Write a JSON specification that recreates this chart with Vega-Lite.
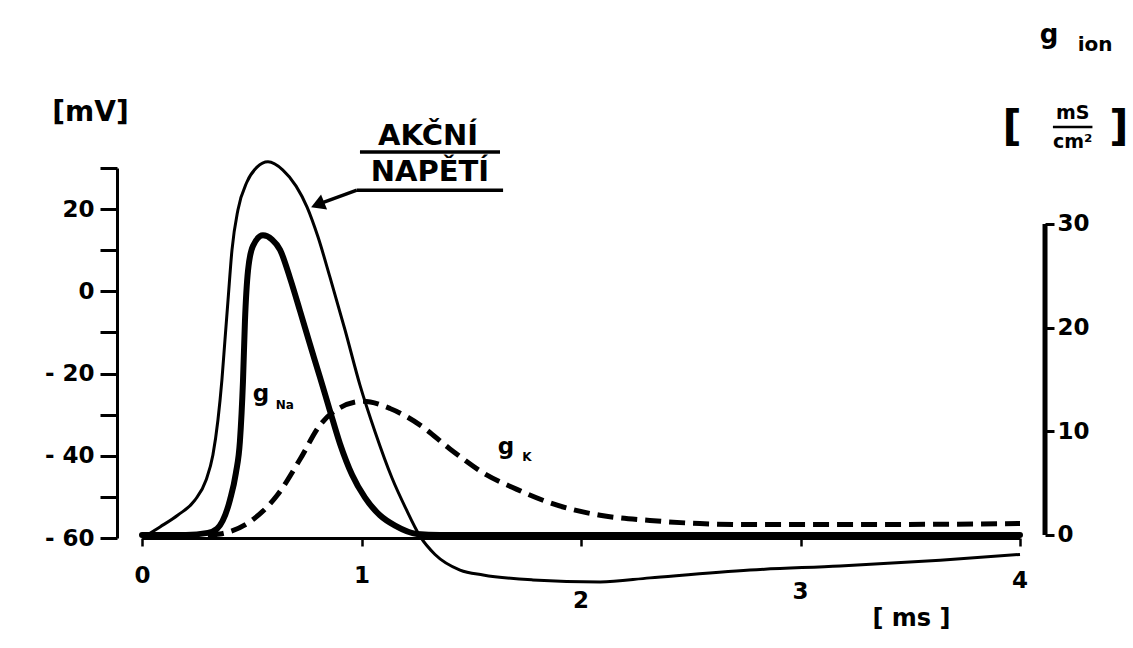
{
  "$schema": "https://vega.github.io/schema/vega-lite/v6.json",
  "width": 878,
  "height": 370,
  "autosize": {"type": "none"},
  "padding": {"left": 142, "top": 168, "right": 113, "bottom": 110},
  "background": "white",
  "config": {
    "view": {"stroke": null},
    "axis": {
      "grid": false,
      "labelColor": "black",
      "domainColor": "black",
      "tickColor": "black",
      "labelFont": "DejaVu Sans",
      "labelFontWeight": "bold",
      "labelFontSize": 23,
      "titleFont": "DejaVu Sans",
      "titleColor": "black",
      "titleFontWeight": "bold"
    }
  },
  "datasets": {
    "ap": [
      {"t": 0, "mV": -60}, {"t": 0.082, "mV": -57.3}, {"t": 0.164, "mV": -54.4}, {"t": 0.241, "mV": -50.8},
      {"t": 0.292, "mV": -45.9}, {"t": 0.323, "mV": -39.8}, {"t": 0.346, "mV": -31.3}, {"t": 0.364, "mV": -21.6},
      {"t": 0.378, "mV": -11.8}, {"t": 0.392, "mV": -2.1}, {"t": 0.41, "mV": 10.1}, {"t": 0.437, "mV": 19.8},
      {"t": 0.478, "mV": 26.6}, {"t": 0.524, "mV": 30.2}, {"t": 0.574, "mV": 31.5}, {"t": 0.642, "mV": 29.5},
      {"t": 0.702, "mV": 25.6}, {"t": 0.752, "mV": 20.5}, {"t": 0.802, "mV": 13.2}, {"t": 0.856, "mV": 3.5},
      {"t": 0.925, "mV": -9.4}, {"t": 0.993, "mV": -22.8}, {"t": 1.062, "mV": -34.2}, {"t": 1.139, "mV": -45.4},
      {"t": 1.2, "mV": -52.6}, {"t": 1.267, "mV": -59.6}, {"t": 1.335, "mV": -64.0}, {"t": 1.449, "mV": -67.8},
      {"t": 1.554, "mV": -69}, {"t": 1.781, "mV": -70.2}, {"t": 2.087, "mV": -70.7}, {"t": 2.314, "mV": -69.7},
      {"t": 2.77, "mV": -67.8}, {"t": 3.18, "mV": -66.8}, {"t": 3.636, "mV": -65.4}, {"t": 4.0, "mV": -64}
    ],
    "gna": [
      {"t": 0, "g": 0}, {"t": 0.2, "g": 0}, {"t": 0.3, "g": 0.2}, {"t": 0.342, "g": 0.6}, {"t": 0.401, "g": 3.4},
      {"t": 0.428, "g": 6.0}, {"t": 0.446, "g": 9.0}, {"t": 0.46, "g": 14.8}, {"t": 0.469, "g": 20.6},
      {"t": 0.483, "g": 25.5}, {"t": 0.506, "g": 27.9}, {"t": 0.551, "g": 28.9}, {"t": 0.592, "g": 28.5},
      {"t": 0.629, "g": 27.5}, {"t": 0.674, "g": 24.8}, {"t": 0.72, "g": 21.6}, {"t": 0.765, "g": 18.4},
      {"t": 0.811, "g": 15.2}, {"t": 0.856, "g": 12.0}, {"t": 0.902, "g": 8.8}, {"t": 0.957, "g": 5.8},
      {"t": 1.016, "g": 3.6}, {"t": 1.084, "g": 1.9}, {"t": 1.153, "g": 0.9}, {"t": 1.253, "g": 0.1},
      {"t": 1.358, "g": 0}, {"t": 4, "g": 0}
    ],
    "gk": [
      {"t": 0.3, "g": 0}, {"t": 0.355, "g": 0.1}, {"t": 0.506, "g": 1.5}, {"t": 0.615, "g": 3.8}, {"t": 0.72, "g": 7.3},
      {"t": 0.811, "g": 10.6}, {"t": 0.888, "g": 12.1}, {"t": 1.007, "g": 12.9}, {"t": 1.13, "g": 12.2},
      {"t": 1.267, "g": 10.6}, {"t": 1.403, "g": 8.3}, {"t": 1.554, "g": 6.0}, {"t": 1.708, "g": 4.4},
      {"t": 1.859, "g": 3.1}, {"t": 2.087, "g": 1.9}, {"t": 2.314, "g": 1.4}, {"t": 2.542, "g": 1.1},
      {"t": 2.77, "g": 1.0}, {"t": 3.226, "g": 1.0}, {"t": 4.0, "g": 1.1}
    ],
    "caption": [
      {"t": 1.303, "v": 37.8, "text": "AKČNÍ"},
      {"t": 1.312, "v": 29.0, "text": "NAPĚTÍ"}
    ],
    "underline": [
      {"t0": 0.993, "t1": 1.631, "v": 33.9},
      {"t0": 0.979, "t1": 1.645, "v": 24.6}
    ],
    "arrow": [{"t": 0.979, "v": 24.6}, {"t": 0.82, "v": 21.5}],
    "arrowhead": [{"t": 0.8, "v": 21.1}],
    "gletter": [
      {"t": 0.542, "v": -25.0, "text": "g"},
      {"t": 1.658, "v": -37.9, "text": "g"}
    ],
    "gion": [{"t": 4.132, "v": 62.4, "text": "g"}],
    "sub": [
      {"t": 0.651, "v": -27.6, "text": "Na"},
      {"t": 1.754, "v": -40.3, "text": "K"}
    ],
    "ion": [{"t": 4.342, "v": 59.9, "text": "ion"}],
    "bracket": [
      {"t": 3.964, "v": 39.7, "text": "["},
      {"t": 4.45, "v": 39.7, "text": "]"}
    ],
    "unit": [
      {"t": 4.24, "v": 43.3, "text": "mS"},
      {"t": 4.24, "v": 36.4, "text": "cm²"}
    ],
    "fracbar": [{"t0": 4.15, "t1": 4.33, "v": 40.0}],
    "xlab": [
      {"t": 2, "v": -75.3, "text": "2"},
      {"t": 3, "v": -73.1, "text": "3"},
      {"t": 4, "v": -70.4, "text": "4"}
    ],
    "gaxis": [{"t": 4.114, "g0": 0, "g1": 30}]
  },
  "layer": [
    {
      "layer": [
        {
          "data": {"name": "ap"},
          "mark": {"type": "line", "interpolate": "monotone", "stroke": "black", "strokeWidth": 3},
          "encoding": {
            "x": {
              "field": "t", "type": "quantitative",
              "scale": {"domain": [0, 4], "nice": false, "zero": false},
              "axis": {
                "values": [0, 1, 2, 3, 4],
                "labelExpr": "datum.value <= 1 ? '' + datum.value : ''",
                "domainWidth": 3, "tickSize": 8, "tickWidth": 2.5,
                "labelPadding": 18,
                "labelFlush": false, "labelBound": false, "labelOverlap": false,
                "title": "[ ms ]", "titleFontSize": 24, "titleX": 769, "titleY": 80,
                "titleBaseline": "middle", "titleAlign": "center"
              }
            },
            "y": {
              "field": "mV", "type": "quantitative",
              "scale": {"domain": [-60, 30], "nice": false, "zero": false},
              "axis": {
                "orient": "left", "offset": 25,
                "values": [-60, -50, -40, -30, -20, -10, 0, 10, 20, 30],
                "labelExpr": "datum.value % 20 == 0 && datum.value != 30 ? (datum.value < 0 ? '- ' + (-datum.value) : '' + datum.value) : ''",
                "domainWidth": 3, "tickSize": 17, "tickWidth": 3, "labelPadding": 6,
                "labelOverlap": false, "labelBound": false, "labelFlush": false,
                "title": "[mV]", "titleAngle": 0, "titleX": -27, "titleY": -56,
                "titleAlign": "center", "titleBaseline": "middle", "titleFontSize": 28
              }
            }
          }
        },
        {
          "data": {"name": "xlab"},
          "mark": {"type": "text", "font": "DejaVu Sans", "fontWeight": "bold", "fontSize": 23, "align": "center", "baseline": "middle", "fill": "black"},
          "encoding": {
            "x": {"field": "t", "type": "quantitative"},
            "y": {"field": "v", "type": "quantitative"},
            "text": {"field": "text"}
          }
        },
        {
          "data": {"name": "caption"},
          "mark": {"type": "text", "font": "DejaVu Sans", "fontWeight": "bold", "fontSize": 29, "align": "center", "baseline": "middle", "fill": "black"},
          "encoding": {
            "x": {"field": "t", "type": "quantitative"},
            "y": {"field": "v", "type": "quantitative"},
            "text": {"field": "text"}
          }
        },
        {
          "data": {"name": "underline"},
          "mark": {"type": "rule", "stroke": "black", "strokeWidth": 3.5},
          "encoding": {
            "x": {"field": "t0", "type": "quantitative"},
            "x2": {"field": "t1"},
            "y": {"field": "v", "type": "quantitative"}
          }
        },
        {
          "data": {"name": "arrow"},
          "mark": {"type": "line", "stroke": "black", "strokeWidth": 3.5},
          "encoding": {
            "x": {"field": "t", "type": "quantitative"},
            "y": {"field": "v", "type": "quantitative"}
          }
        },
        {
          "data": {"name": "arrowhead"},
          "mark": {"type": "point", "shape": "triangle-left", "filled": true, "fill": "black", "stroke": null, "size": 260, "angle": 338, "opacity": 1},
          "encoding": {
            "x": {"field": "t", "type": "quantitative"},
            "y": {"field": "v", "type": "quantitative"}
          }
        },
        {
          "data": {"name": "gletter"},
          "mark": {"type": "text", "font": "DejaVu Sans", "fontWeight": "bold", "fontSize": 23, "align": "center", "baseline": "middle", "fill": "black"},
          "encoding": {
            "x": {"field": "t", "type": "quantitative"},
            "y": {"field": "v", "type": "quantitative"},
            "text": {"field": "text"}
          }
        },
        {
          "data": {"name": "gion"},
          "mark": {"type": "text", "font": "DejaVu Sans", "fontWeight": "bold", "fontSize": 26, "align": "center", "baseline": "middle", "fill": "black"},
          "encoding": {
            "x": {"field": "t", "type": "quantitative"},
            "y": {"field": "v", "type": "quantitative"},
            "text": {"field": "text"}
          }
        },
        {
          "data": {"name": "sub"},
          "mark": {"type": "text", "font": "DejaVu Sans", "fontWeight": "bold", "fontSize": 12, "align": "center", "baseline": "middle", "fill": "black"},
          "encoding": {
            "x": {"field": "t", "type": "quantitative"},
            "y": {"field": "v", "type": "quantitative"},
            "text": {"field": "text"}
          }
        },
        {
          "data": {"name": "ion"},
          "mark": {"type": "text", "font": "DejaVu Sans", "fontWeight": "bold", "fontSize": 20, "align": "center", "baseline": "middle", "fill": "black"},
          "encoding": {
            "x": {"field": "t", "type": "quantitative"},
            "y": {"field": "v", "type": "quantitative"},
            "text": {"field": "text"}
          }
        },
        {
          "data": {"name": "bracket"},
          "mark": {"type": "text", "font": "DejaVu Sans", "fontWeight": "bold", "fontSize": 42, "align": "center", "baseline": "middle", "fill": "black"},
          "encoding": {
            "x": {"field": "t", "type": "quantitative"},
            "y": {"field": "v", "type": "quantitative"},
            "text": {"field": "text"}
          }
        },
        {
          "data": {"name": "unit"},
          "mark": {"type": "text", "font": "DejaVu Sans", "fontWeight": "bold", "fontSize": 19, "align": "center", "baseline": "middle", "fill": "black"},
          "encoding": {
            "x": {"field": "t", "type": "quantitative"},
            "y": {"field": "v", "type": "quantitative"},
            "text": {"field": "text"}
          }
        },
        {
          "data": {"name": "fracbar"},
          "mark": {"type": "rule", "stroke": "black", "strokeWidth": 2.5},
          "encoding": {
            "x": {"field": "t0", "type": "quantitative"},
            "x2": {"field": "t1"},
            "y": {"field": "v", "type": "quantitative"}
          }
        }
      ]
    },
    {
      "layer": [
        {
          "data": {"name": "gna"},
          "mark": {"type": "line", "interpolate": "monotone", "stroke": "black", "strokeWidth": 6, "strokeCap": "round", "strokeJoin": "round"},
          "encoding": {
            "x": {"field": "t", "type": "quantitative"},
            "y": {
              "field": "g", "type": "quantitative",
              "scale": {"domain": [-0.29, 35.39], "nice": false, "zero": false},
              "axis": {
                "orient": "right", "offset": 25, "values": [0, 10, 20, 30],
                "domain": false, "tickSize": 9, "tickWidth": 3, "labelPadding": 3,
                "labelOverlap": false, "labelBound": false, "labelFlush": false,
                "title": null
              }
            }
          }
        },
        {
          "data": {"name": "gk"},
          "mark": {"type": "line", "interpolate": "monotone", "stroke": "black", "strokeWidth": 5, "strokeDash": [16, 8]},
          "encoding": {
            "x": {"field": "t", "type": "quantitative"},
            "y": {"field": "g", "type": "quantitative"}
          }
        },
        {
          "data": {"name": "gaxis"},
          "mark": {"type": "rule", "stroke": "black", "strokeWidth": 5},
          "encoding": {
            "x": {"field": "t", "type": "quantitative"},
            "y": {"field": "g0", "type": "quantitative"},
            "y2": {"field": "g1"}
          }
        }
      ]
    }
  ],
  "resolve": {"scale": {"y": "independent"}, "axis": {"y": "independent"}}
}
